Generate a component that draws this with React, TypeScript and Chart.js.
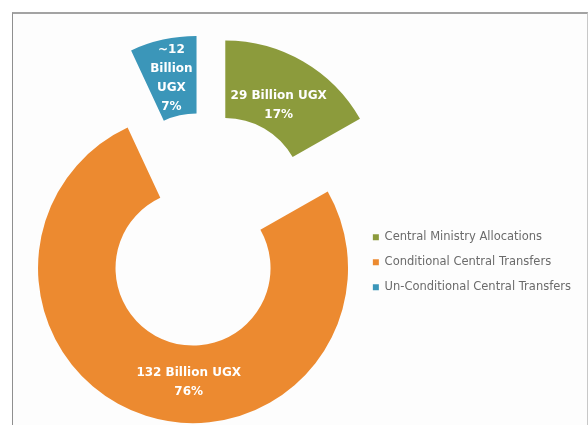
import React, { useEffect, useRef } from "react";
import { Chart, registerables } from "chart.js";

Chart.register(...registerables);

// ---- data ----
const categories = [
  "Central Ministry Allocations",
  "Conditional Central Transfers",
  "Un-Conditional Central Transfers",
];
const valuesBillionUGX = [29, 132, 12];
const amountLabelLines = [["29 Billion UGX"], ["132 Billion UGX"], ["~12", "Billion", "UGX"]];
const colors = ["#8C9B3C", "#EC8A30", "#3B96B9"];

// ---- style ----
const EXPLODE = 40; // px each slice is pulled out
const labelNudge = [
  [-5, 10],
  [31, 4],
  [0, 1],
];
const LABEL_LINE_H = 19;

const explodePlugin = {
  id: "explodeDoughnut",
  beforeDatasetDraw(chart: any, args: any) {
    const ctx = chart.ctx;
    args.meta.data.forEach((arc: any) => {
      const mid = (arc.startAngle + arc.endAngle) / 2;
      ctx.save();
      ctx.translate(Math.cos(mid) * EXPLODE, Math.sin(mid) * EXPLODE);
      arc.draw(ctx);
      ctx.restore();
    });
    return false;
  },
  afterDatasetsDraw(chart: any) {
    const ctx = chart.ctx;
    const meta = chart.getDatasetMeta(0);
    const data = chart.data.datasets[0].data as number[];
    const total = data.reduce((a, b) => a + b, 0);
    meta.data.forEach((arc: any, i: number) => {
      const mid = (arc.startAngle + arc.endAngle) / 2;
      const c = arc.getCenterPoint();
      const x = c.x + Math.cos(mid) * EXPLODE + labelNudge[i][0];
      const y = c.y + Math.sin(mid) * EXPLODE + labelNudge[i][1];
      const lines = [...amountLabelLines[i], Math.round((data[i] / total) * 100) + "%"];
      ctx.save();
      ctx.fillStyle = "#ffffff";
      ctx.font = "bold 12px 'DejaVu Sans'";
      ctx.textAlign = "center";
      ctx.textBaseline = "middle";
      const h = (lines.length - 1) * LABEL_LINE_H;
      lines.forEach((t, k) => {
        ctx.fillText(t, x, y - h / 2 + k * LABEL_LINE_H);
      });
      ctx.restore();
    });
  },
};

export default function App() {
  const ref = useRef<HTMLCanvasElement>(null);
  useEffect(() => {
    if (!ref.current) return;
    const chart = new Chart(ref.current, {
      type: "doughnut",
      data: {
        labels: categories,
        datasets: [
          {
            data: valuesBillionUGX,
            backgroundColor: colors,
            borderWidth: 0,
          },
        ],
      },
      options: {
        responsive: false,
        animation: false,
        devicePixelRatio: 1,
        events: [],
        radius: 155,
        cutout: "50%",
        layout: { padding: { left: 51, right: 7, top: 35, bottom: 0 } },
        plugins: {
          tooltip: { enabled: false },
          legend: {
            position: "right",
            align: "center",
            title: { display: true, text: "", padding: { top: 50, bottom: 0 }, font: { size: 12 } },
            labels: {
              boxWidth: 6,
              boxHeight: 6,
              padding: 13.5,
              color: "#6b6b6b",
              font: { family: "'DejaVu Sans'", size: 11.5 },
            },
          },
        },
      },
      plugins: [explodePlugin],
    });
    return () => chart.destroy();
  }, []);
  return (
    <>
      <div
        style={{
          position: "absolute",
          left: 12,
          top: 12,
          width: 574,
          height: 430,
          background: "#fdfdfd",
          borderTop: "2px solid #a3a3a3",
          borderLeft: "1px solid #8f8f8f",
          borderRight: "1px solid #c8c8c8",
        }}
      />
      <canvas
        ref={ref}
        width={588}
        height={425}
        style={{ position: "absolute", left: 0, top: 0, width: 588, height: 425 }}
      />
    </>
  );
}
